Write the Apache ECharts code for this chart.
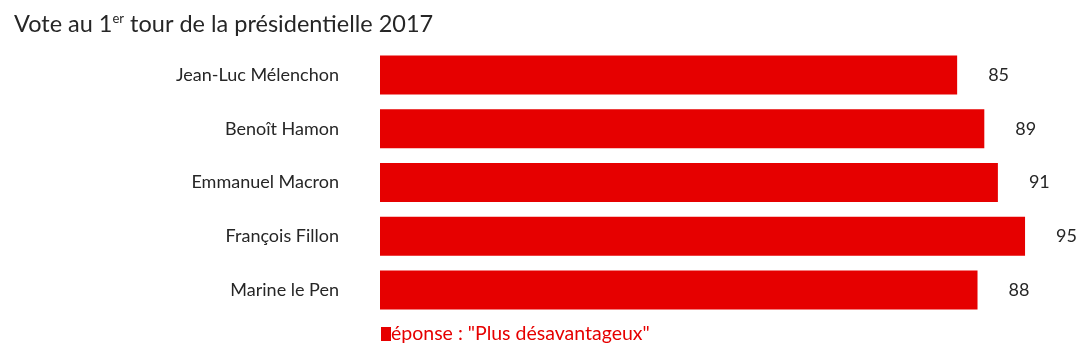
<!DOCTYPE html>
<html>
<head>
<meta charset="utf-8">
<script src="https://cdn.jsdelivr.net/npm/echarts@6/dist/echarts.min.js"></script>
<style>
  html, body { margin: 0; padding: 0; background: #fff; }
  #chart { width: 1085px; height: 354px; }
</style>
</head>
<body>
<div id="chart"></div>
<script>
    // candidates, top to bottom as in the picture
    const candidates = ["Jean-Luc Mélenchon", "Benoît Hamon", "Emmanuel Macron", "François Fillon", "Marine le Pen"];
    const values = [85, 89, 91, 95, 88];
    const seriesName = 'éponse : "Plus désavantageux"';

    const red = "#e60000";
    const ink = "#262626";
    const font = "Lato";

    const chart = echarts.init(document.getElementById("chart"), null, { renderer: "canvas" });

    chart.setOption({
        animation: false,
        textStyle: { fontFamily: font },
        title: {
            text: "{t|Vote au 1}{sup|er}{t| tour de la présidentielle 2017}",
            left: 9,
            top: 7,
            textStyle: {
                rich: {
                    t: { fontSize: 23.5, fontWeight: "normal", color: ink, fontFamily: font },
                    sup: { fontSize: 13, fontWeight: "normal", color: ink, fontFamily: font, verticalAlign: "top", padding: [0, 0, 10, 0] }
                }
            }
        },
        legend: {
            bottom: 5,
            left: 376,
            icon: "rect",
            itemWidth: 10,
            itemHeight: 14,
            itemGap: 0,
            textStyle: { color: red, fontSize: 19.5, fontFamily: font, padding: [0, 0, 0, -5] },
            data: [seriesName]
        },
        grid: {
            left: 380,
            top: 48,
            width: 679,
            height: 269
        },
        xAxis: {
            type: "value",
            min: 0,
            max: 100,
            show: false
        },
        yAxis: {
            type: "category",
            inverse: true,
            data: candidates,
            axisLine: { show: false },
            axisTick: { show: false },
            axisLabel: {
                margin: 41,
                fontSize: 18,
                color: ink,
                fontFamily: font
            }
        },
        series: [
            {
                name: seriesName,
                type: "bar",
                data: values,
                barWidth: 39,
                itemStyle: { color: red },
                label: {
                    show: true,
                    position: "right",
                    distance: 31,
                    fontSize: 18,
                    color: ink,
                    fontFamily: font
                }
            }
        ]
    });
</script>
</body>
</html>
